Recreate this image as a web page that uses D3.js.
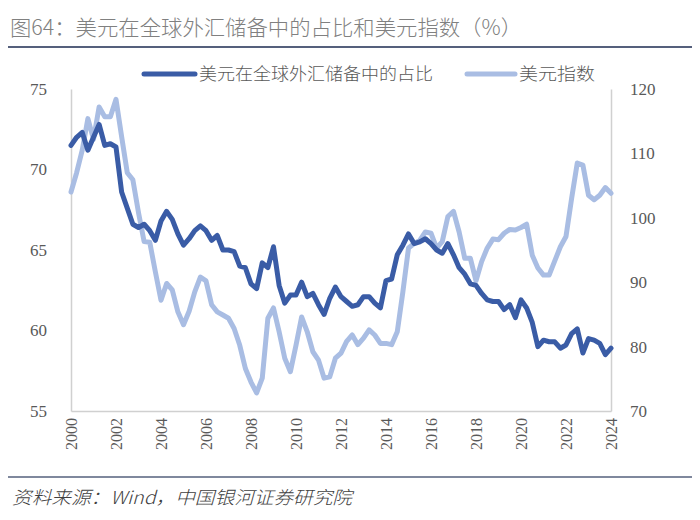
<!DOCTYPE html>
<html>
<head>
<meta charset="utf-8">
<script src="https://cdn.jsdelivr.net/npm/d3@7"></script>
<style>
  html, body { margin: 0; padding: 0; background: #fff; }
  svg { display: block; }
</style>
</head>
<body>
<svg id="chart" width="700" height="520"></svg>
<script>
// ---- Data (quarterly, 2000Q1 .. 2024Q1) ----
const startYear = 2000;
const periodsPerYear = 4;
const tickYears = [2000, 2002, 2004, 2006, 2008, 2010, 2012, 2014, 2016, 2018, 2020, 2022, 2024];
const leftTicks = [55, 60, 65, 70, 75];
const rightTicks = [70, 80, 90, 100, 110, 120];
const seriesNames = ["美元在全球外汇储备中的占比", "美元指数"];

// USD share of global FX reserves (%), left axis
const usdShare = [
  71.5, 72.0, 72.3, 71.2, 72.0, 72.8, 71.5, 71.6, 71.4, 68.6,
  67.6, 66.6, 66.4, 66.6, 66.2, 65.6, 66.8, 67.4, 66.9, 66.0,
  65.3, 65.7, 66.2, 66.5, 66.2, 65.6, 65.9, 65.0, 65.0, 64.9,
  64.0, 63.9, 62.9, 62.6, 64.2, 63.9, 65.2, 62.8, 61.7, 62.2,
  62.2, 63.0, 62.1, 62.3, 61.6, 61.0, 62.0, 62.7, 62.1, 61.8,
  61.5, 61.6, 62.1, 62.1, 61.7, 61.4, 63.1, 63.2, 64.7, 65.3,
  66.0, 65.4, 65.5, 65.7, 65.4, 65.0, 64.8, 65.4, 64.7, 63.9,
  63.5, 62.9, 62.8, 62.3, 61.9, 61.8, 61.8, 61.3, 61.6, 60.8,
  61.9, 61.4, 60.5, 59.0, 59.4, 59.3, 59.3, 58.9, 59.1, 59.8,
  60.1, 58.6, 59.5, 59.4, 59.2, 58.5, 58.9
];

// US dollar index, right axis
const dollarIndex = [
  104.0, 107.0, 110.5, 115.4, 112.2, 117.2, 115.7, 115.7, 118.4, 112.6,
  107.0, 105.9, 100.8, 96.3, 96.2, 91.6, 87.2, 89.8, 88.8, 85.4,
  83.4, 85.5, 88.5, 90.8, 90.2, 86.5, 85.4, 84.9, 84.4, 82.8,
  80.2, 76.6, 74.5, 72.8, 75.1, 84.4, 86.0, 82.3, 78.2, 76.1,
  80.2, 84.6, 82.3, 79.2, 77.9, 75.1, 75.3, 78.2, 79.0, 80.8,
  81.8, 80.3, 81.3, 82.6, 81.8, 80.5, 80.5, 80.3, 82.3, 88.5,
  95.3, 96.0, 96.5, 97.8, 97.6, 95.3, 96.3, 100.2, 101.0, 97.8,
  93.7, 93.7, 90.2, 93.2, 95.3, 96.7, 96.6, 97.6, 98.2, 98.1,
  98.5, 99.0, 94.2, 92.2, 91.1, 91.1, 93.3, 95.5, 97.1, 103.0,
  108.5, 108.2, 103.5, 102.8, 103.5, 104.7, 103.8
];

// ---- Layout ----
const svg = d3.select("#chart");
const plot = { left: 71, right: 611, top: 89, bottom: 411 };
const darkColor = "#3a5ca6";
const lightColor = "#a9bde3";
const axisTextColor = "#595959";
const serif = "'Liberation Serif', 'DejaVu Serif', serif";
const cjk = "'Noto Sans CJK SC', 'Noto Sans', sans-serif";

const x = d3.scaleLinear()
  .domain([0, usdShare.length - 1])
  .range([plot.left, plot.right]);
const yL = d3.scaleLinear().domain([55, 75]).range([plot.bottom, plot.top]);
const yR = d3.scaleLinear().domain([70, 120]).range([plot.bottom, plot.top]);

// Title
svg.append("text")
  .attr("x", 10).attr("y", 35)
  .attr("font-family", cjk)
  .attr("font-size", 21)
  .attr("font-weight", 300)
  .attr("fill", "#808080")
  .attr("textLength", 512)
  .attr("lengthAdjust", "spacingAndGlyphs")
  .text("图64：美元在全球外汇储备中的占比和美元指数（%）");
svg.append("line")
  .attr("x1", 8).attr("x2", 692).attr("y1", 47).attr("y2", 47)
  .attr("stroke", "#55607c").attr("stroke-width", 2);

// Footer
svg.append("line")
  .attr("x1", 8).attr("x2", 692).attr("y1", 477).attr("y2", 477)
  .attr("stroke", "#55607c").attr("stroke-width", 1.5);
svg.append("text")
  .attr("x", 12).attr("y", 504)
  .attr("font-family", cjk)
  .attr("font-style", "italic")
  .attr("font-weight", 300)
  .attr("font-size", 18)
  .attr("fill", "#404040")
  .attr("textLength", 340)
  .attr("lengthAdjust", "spacingAndGlyphs")
  .text("资料来源：Wind，中国银河证券研究院");

// Axes
const xTickVals = tickYears.map(yv => (yv - startYear) * periodsPerYear);
const xAxis = d3.axisBottom(x).tickValues(xTickVals).tickSize(0)
  .tickFormat((d, i) => tickYears[i]);
const gx = svg.append("g").attr("transform", `translate(0,${plot.bottom})`).call(xAxis);
gx.select(".domain").attr("stroke", "#d0d0d0").attr("stroke-width", 1.5);
gx.selectAll("text")
  .attr("font-family", serif).attr("font-size", 16).attr("fill", axisTextColor)
  .attr("transform", "rotate(-90)")
  .attr("text-anchor", "end")
  .attr("x", -7).attr("y", 0).attr("dy", "0.35em");

const gl = svg.append("g").attr("transform", `translate(${plot.left},0)`)
  .call(d3.axisLeft(yL).tickValues(leftTicks).tickSize(0).tickPadding(24));
gl.select(".domain").attr("stroke", "#d0d0d0").attr("stroke-width", 1.5);
gl.selectAll("text").attr("font-family", serif).attr("font-size", 17).attr("fill", axisTextColor);

const gr = svg.append("g").attr("transform", `translate(${plot.right},0)`)
  .call(d3.axisRight(yR).tickValues(rightTicks).tickSize(0).tickPadding(19));
gr.select(".domain").attr("stroke", "#d0d0d0").attr("stroke-width", 1.5);
gr.selectAll("text").attr("font-family", serif).attr("font-size", 17).attr("fill", axisTextColor);

// Lines
const lineR = d3.line().x((d, i) => x(i)).y(d => yR(d));
const lineL = d3.line().x((d, i) => x(i)).y(d => yL(d));

svg.append("path").datum(dollarIndex)
  .attr("d", lineR).attr("fill", "none")
  .attr("stroke", lightColor).attr("stroke-width", 5)
  .attr("stroke-linejoin", "round").attr("stroke-linecap", "round");
svg.append("path").datum(usdShare)
  .attr("d", lineL).attr("fill", "none")
  .attr("stroke", darkColor).attr("stroke-width", 5)
  .attr("stroke-linejoin", "round").attr("stroke-linecap", "round");

// Legend
const legend = [
  { name: seriesNames[0], color: darkColor, x1: 144, x2: 195, tx: 199, tw: 234 },
  { name: seriesNames[1], color: lightColor, x1: 467, x2: 515, tx: 519, tw: 76 }
];
legend.forEach(l => {
  svg.append("line")
    .attr("x1", l.x1).attr("x2", l.x2).attr("y1", 74).attr("y2", 74)
    .attr("stroke", l.color).attr("stroke-width", 5).attr("stroke-linecap", "round");
  svg.append("text")
    .attr("x", l.tx).attr("y", 80)
    .attr("font-family", cjk).attr("font-size", 17).attr("font-weight", 300)
    .attr("fill", axisTextColor)
    .attr("textLength", l.tw).attr("lengthAdjust", "spacingAndGlyphs")
    .text(l.name);
});
</script>
</body>
</html>
